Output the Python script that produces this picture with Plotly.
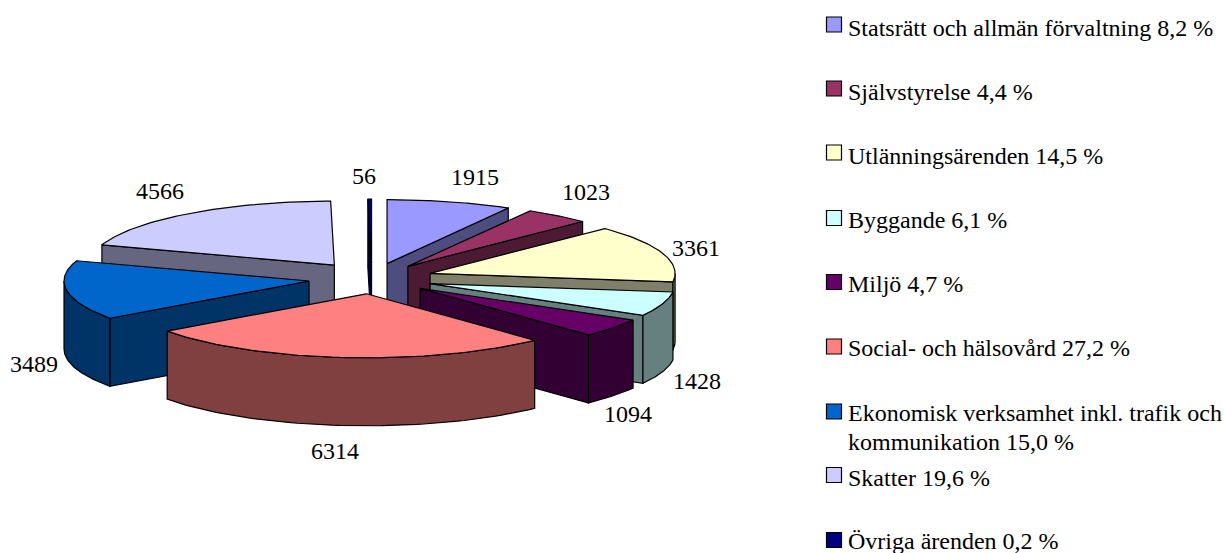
import numpy as np
import plotly.graph_objects as go

# ---- data ----
categories = ["Statsrätt och allmän förvaltning", "Självstyrelse", "Utlänningsärenden",
              "Byggande", "Miljö", "Social- och hälsovård",
              "Ekonomisk verksamhet inkl. trafik och<br>kommunikation", "Skatter", "Övriga ärenden"]
values = [1915, 1023, 3361, 1428, 1094, 6314, 3489, 4566, 56]
percents = ["8,2", "4,4", "14,5", "6,1", "4,7", "27,2", "15,0", "19,6", "0,2"]
top_colors = ["#9999FF", "#993366", "#FFFFCC", "#CCFFFF", "#660066", "#FF8080", "#0066CC", "#CCCCFF", "#000080"]
wall_colors = ["#4D4D80", "#4D1A33", "#80806A", "#668080", "#330033", "#804040", "#003366", "#666680", "#000040"]

# ---- 3D pie projection settings ----
CX, CY, RX, RY, DEPTH = 372, 278.5, 245, 64, 68
pulls = [0.24, 0.24, 0.25, 0.25, 0.25, 0.24, 0.26, 0.26, 0.24]
paint_order = [8, 0, 7, 1, 2, 3, 6, 4, 5]
label_xy = [(475, 177), (586, 192), (696, 248), (697, 381), (628, 414),
            (335, 451), (34, 364), (160, 191), (364, 176)]
legend_y = [24.5, 88.5, 152.5, 218, 282, 346.5, 411.5, 475, 540]
legend_text_y = [27.5, 91.5, 155.5, 219.5, 284, 347.5, 412.5, 477.5, 540.5]
FONT = "Liberation Serif"

total = sum(values)
edges = np.cumsum([0] + values) / total * 2 * np.pi


def rim(t, ox, oy, drop=0.0):
    return ox + RX * np.sin(t), oy - RY * np.cos(t) + drop


fig = go.Figure()


def poly(xs, ys, color):
    xs, ys = list(xs), list(ys)
    fig.add_trace(go.Scatter(x=xs + xs[:1], y=ys + ys[:1], mode="lines", fill="toself",
                             fillcolor=color, line=dict(color="black", width=1.2),
                             hoverinfo="skip", showlegend=False))


for i in paint_order:
    a, b = edges[i], edges[i + 1]
    mid = (a + b) / 2
    ox = CX + pulls[i] * RX * np.sin(mid)
    oy = CY - pulls[i] * RY * np.cos(mid)
    # start cut face
    if np.sin(a) < 0:
        x, y = rim(a, ox, oy)
        poly([ox, x, x, ox], [oy, y, y + DEPTH, oy + DEPTH], wall_colors[i])
    # end cut face
    if np.sin(b) > 0:
        x, y = rim(b, ox, oy)
        poly([ox, x, x, ox], [oy, y, y + DEPTH, oy + DEPTH], wall_colors[i])
    # outer wall (front part of rim only)
    lo, hi = max(a, np.pi / 2), min(b, 3 * np.pi / 2)
    if hi > lo:
        t = np.linspace(lo, hi, 60)
        x, y = rim(t, ox, oy)
        poly(np.r_[x, x[::-1]], np.r_[y, (y + DEPTH)[::-1]], wall_colors[i])
    # top face
    t = np.linspace(a, b, 60)
    x, y = rim(t, ox, oy)
    poly(np.r_[ox, x], np.r_[oy, y], top_colors[i])

# legend swatches
fig.add_trace(go.Scatter(x=[834] * len(values), y=legend_y, mode="markers",
                         marker=dict(symbol="square", size=15, color=top_colors,
                                     line=dict(color="black", width=1.2)),
                         hoverinfo="skip", showlegend=False))

annotations = []
for v, (x, y) in zip(values, label_xy):
    annotations.append(dict(x=x, y=y, text=str(v), showarrow=False, xanchor="center", yanchor="middle"))
for c, p, y in zip(categories, percents, legend_text_y):
    for k, line in enumerate(f"{c} {p} %".split("<br>")):
        annotations.append(dict(x=845.5, y=y + 29 * k, text=line, showarrow=False,
                                xanchor="left", yanchor="middle"))

fig.update_layout(
    width=1224, height=553, margin=dict(l=0, r=0, t=0, b=0),
    paper_bgcolor="white", plot_bgcolor="white",
    font=dict(family=FONT, size=24, color="black"),
    xaxis=dict(range=[0, 1224], visible=False, fixedrange=True),
    yaxis=dict(range=[553, 0], visible=False, fixedrange=True),
    annotations=annotations,
)
fig.write_html("out.html", post_script="document.body.style.margin='0';", config={"displayModeBar": False})
